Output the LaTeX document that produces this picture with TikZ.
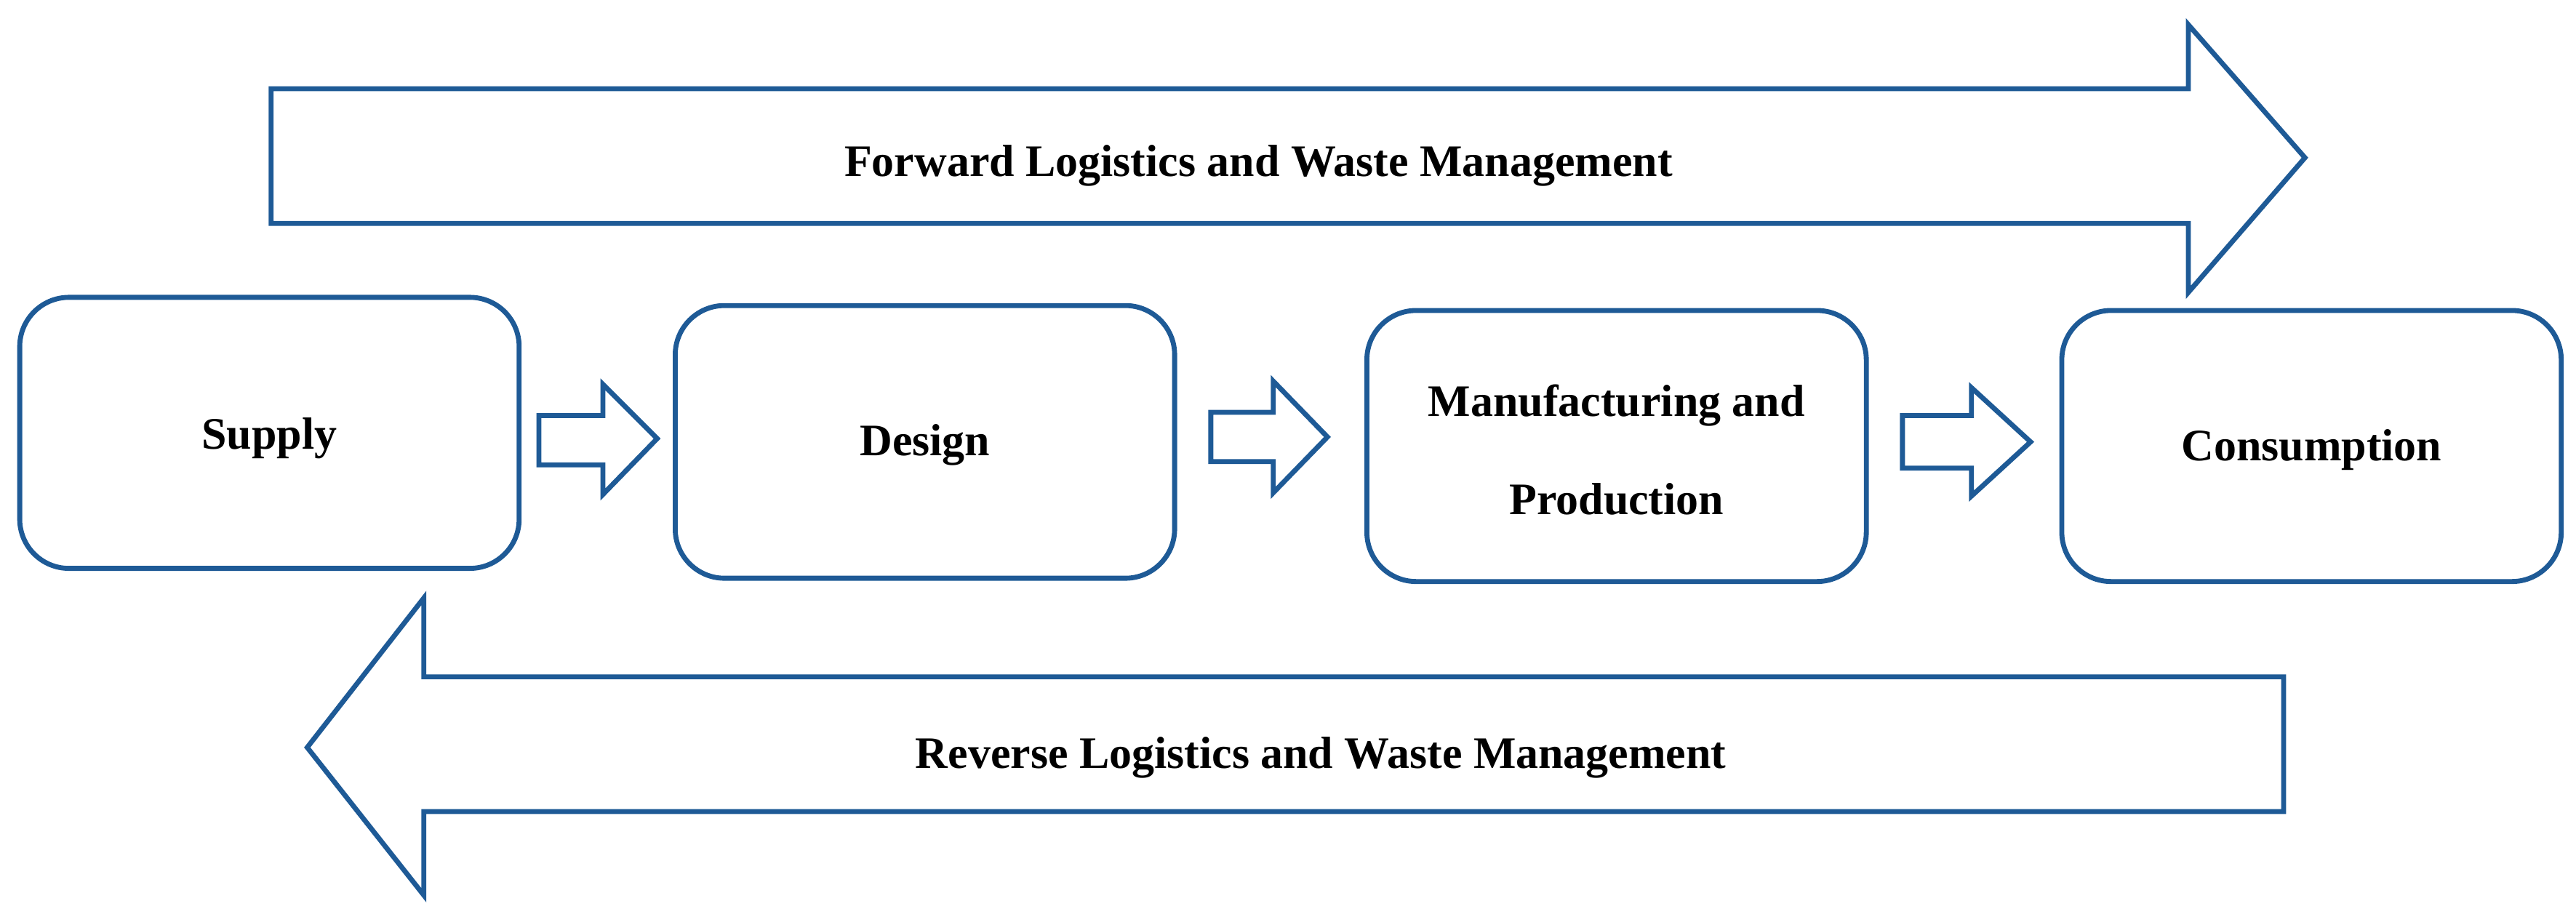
\documentclass[tikz,border=0pt]{standalone}
\usepackage{fontspec}
\setmainfont{Liberation Serif}
\begin{document}
\begin{tikzpicture}[x=0.05cm,y=-0.05cm,
  line/.style={color={rgb,255:red,30;green,90;blue,150}, line width=4.3pt, line join=miter},
  box/.style={line, rounded corners=1.5cm, fill=white},
  lbl/.style={font=\fontsize{39}{85}\selectfont\bfseries, text=black, align=center}]
\useasboundingbox (0,0) rectangle (1568,558);
% forward arrow
\draw[line] (165,54) -- (1332,54) -- (1332,15) -- (1403,96) -- (1332,178) -- (1332,136) -- (165,136) -- cycle;
\node[lbl] (fw) at (766,101) {Forward Logistics and Waste Management};
% reverse arrow
\draw[line] (1390,412) -- (258,412) -- (258,364) -- (187,455) -- (258,545) -- (258,494) -- (1390,494) -- cycle;
\node[lbl] (rv) at (804,461) {Reverse Logistics and Waste Management};
% boxes
\draw[box] (12,181) rectangle (316,346); \node[lbl] (s) at (164,267) {Supply};
\draw[box] (411,186) rectangle (715,352); \node[lbl] (d) at (563,271) {Design};
\draw[box] (832,189) rectangle (1136,354); \node[lbl] (m) at (984,274) {Manufacturing and\\Production};
\draw[box] (1255,189) rectangle (1559,354); \node[lbl] (c) at (1407,274) {Consumption};
% small arrows
\draw[line] (328,253) -- (367,253) -- (367,234) -- (400,267) -- (367,301) -- (367,283) -- (328,283) -- cycle;
\draw[line] (737,251) -- (775,251) -- (775,232) -- (808,266) -- (775,300) -- (775,281) -- (737,281) -- cycle;
\draw[line] (1158,253) -- (1200,253) -- (1200,236) -- (1236,269) -- (1200,302) -- (1200,285) -- (1158,285) -- cycle;
\end{tikzpicture}
\end{document}
